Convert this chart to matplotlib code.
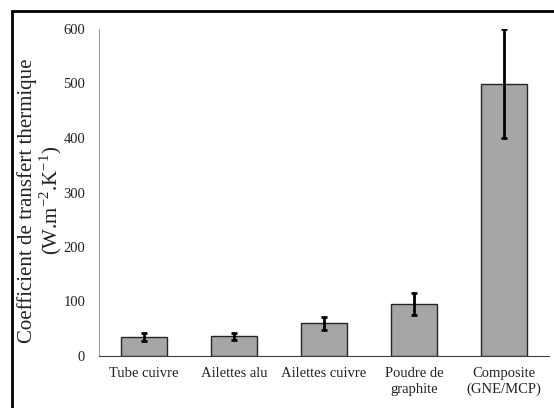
import matplotlib.pyplot as plt
from matplotlib.patches import Rectangle

plt.rcParams['font.family'] = ['Liberation Serif', 'DejaVu Serif']
plt.rcParams['mathtext.fontset'] = 'custom'
plt.rcParams['mathtext.rm'] = 'Liberation Serif'

# data
categories = ['Tube cuivre', 'Ailettes alu', 'Ailettes cuivre',
              'Poudre de\ngraphite', 'Composite\n(GNE/MCP)']
values = [35, 36, 60, 95, 500]
errors = [7, 7, 12, 20, 100]
yticks = [0, 100, 200, 300, 400, 500, 600]

fig = plt.figure(figsize=(5.54, 4.08), dpi=100)
ax = fig.add_axes([99/554, 52/408, 450/554, 327/408])

x = range(len(categories))
ax.bar(x, values, width=0.51, color='#a6a6a6', edgecolor='#262626', linewidth=1.0)
ax.errorbar(x, values, yerr=errors, fmt='none', ecolor='black',
            elinewidth=2, capsize=2.5, capthick=2)

ax.set_xlim(-0.5, 4.5)
ax.set_ylim(0, 600)
ax.set_yticks(yticks)
ax.set_xticks(list(x))
ax.set_xticklabels(categories, fontsize=10.5, linespacing=1.25)
ax.tick_params(axis='both', length=0, labelsize=10.5, colors='#222222')
ax.tick_params(axis='y', pad=10)
ax.tick_params(axis='x', pad=8)

for s in ['top', 'right']:
    ax.spines[s].set_visible(False)
ax.spines['left'].set_color('#a0a0a0')
ax.spines['bottom'].set_color('#404040')

ax.set_ylabel('Coefficient de transfert thermique\n(W.m$^{\\mathregular{-2}}$.K$^{\\mathregular{-1}}$)',
              fontsize=15, linespacing=1.0, color='#222222')
ax.yaxis.set_label_coords(-0.078, 0.475)

# black frame at top and left (image is cropped on the other sides)
fig.patches.append(Rectangle((11.5/554, -0.1), 1.2, (408 - 10.5)/408 + 0.1,
                             transform=fig.transFigure, fill=False,
                             edgecolor='black', linewidth=2))

fig.savefig('out.png', dpi=100)
